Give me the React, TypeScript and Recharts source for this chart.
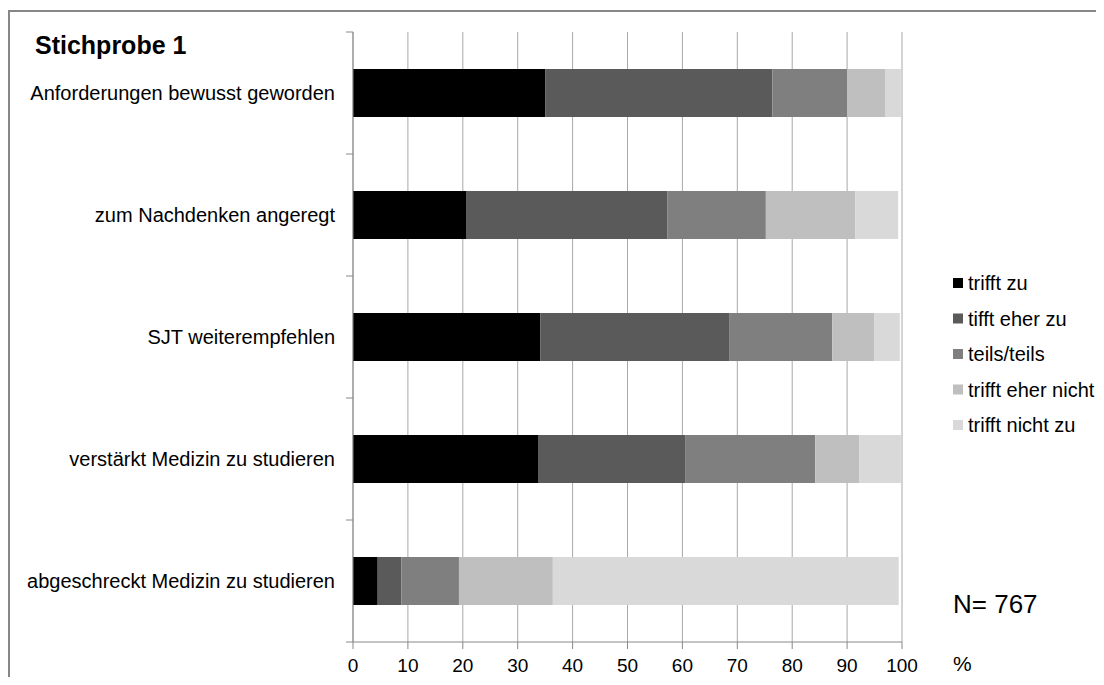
import { Bar, BarChart, CartesianGrid, XAxis, YAxis } from "recharts";

const categories = [
  "Anforderungen bewusst geworden",
  "zum Nachdenken angeregt",
  "SJT weiterempfehlen",
  "verstärkt Medizin zu studieren",
  "abgeschreckt Medizin zu studieren",
];

const seriesNames = [
  "trifft zu",
  "tifft eher zu",
  "teils/teils",
  "trifft eher nicht",
  "trifft nicht zu",
];

const seriesColors = ["#000000", "#5a5a5a", "#7f7f7f", "#bfbfbf", "#d9d9d9"];

// one array per answer, in the order of the categories
const triffZu = [35.0, 20.7, 34.1, 33.7, 4.5];
const eherZu = [41.4, 36.6, 34.4, 26.9, 4.3];
const teils = [13.6, 17.9, 18.8, 23.6, 10.5];
const eherNicht = [6.9, 16.3, 7.7, 8.0, 17.1];
const nichtZu = [2.9, 7.8, 4.6, 7.6, 63.0];

const seriesValues = [triffZu, eherZu, teils, eherNicht, nichtZu];
const xTicks = [0, 10, 20, 30, 40, 50, 60, 70, 80, 90, 100];

const W = 1096;
const H = 669;
const M = { top: 24, right: 202, bottom: 5, left: 0 };
const X_AXIS_H = 30;
const Y_AXIS_W = 345;
const FONT = "'Liberation Sans', Arial, sans-serif";
const AXIS = "#888888";

const data = categories.map((label, i) => {
  const row: Record<string, string | number> = { label };
  seriesNames.forEach((name, s) => {
    row[name] = seriesValues[s][i];
  });
  return row;
});

const bandHalf = (H - M.top - M.bottom - X_AXIS_H) / categories.length / 2;

function CategoryTick(props: any) {
  const { x, y, payload, index } = props;
  const axisX = x + 18;
  return (
    <g>
      <line x1={axisX - 7} x2={axisX} y1={y - bandHalf} y2={y - bandHalf} stroke={AXIS} />
      {index === categories.length - 1 && (
        <line x1={axisX - 7} x2={axisX} y1={y + bandHalf} y2={y + bandHalf} stroke={AXIS} />
      )}
      <text x={x} y={y} dy="0.35em" textAnchor="end" fontSize={20} fill="#000" fontFamily={FONT}>
        {payload.value}
      </text>
    </g>
  );
}

export default function App() {
  return (
    <div style={{ position: "relative", width: W, height: H, fontFamily: FONT }}>
      <div
        style={{
          position: "absolute",
          left: 0,
          top: 2,
          width: W,
          height: H - 2,
          borderTop: "2px solid #878787",
          borderLeft: "2px solid #878787",
          boxSizing: "border-box",
        }}
      />
      <div style={{ position: "absolute", left: 0, top: 0 }}>
        <BarChart width={W} height={H} data={data} layout="vertical" margin={M} barSize={48}>
          <CartesianGrid horizontal={false} stroke="#a8a8a8" verticalValues={xTicks} />
          <XAxis
            type="number"
            domain={[0, 100]}
            ticks={xTicks}
            height={X_AXIS_H}
            stroke={AXIS}
            tickSize={7}
            tickMargin={10}
            tick={{ fill: "#000", fontSize: 19, fontFamily: FONT }}
            interval={0}
          />
          <YAxis
            type="category"
            dataKey="label"
            width={Y_AXIS_W}
            stroke={AXIS}
            tickLine={false}
            tickSize={0}
            tickMargin={18}
            tick={<CategoryTick />}
            interval={0}
          />
          {seriesNames.map((name, s) => (
            <Bar
              key={name}
              dataKey={name}
              stackId="a"
              fill={seriesColors[s]}
              isAnimationActive={false}
            />
          ))}
        </BarChart>
      </div>
      <svg
        width={W}
        height={H}
        style={{ position: "absolute", left: 0, top: 0, pointerEvents: "none" }}
        fontFamily={FONT}
      >
        <text x={27} y={46} fontSize={25} fontWeight="bold" fill="#000">
          Stichprobe 1
        </text>
        {seriesNames.map((name, s) => (
          <g key={name}>
            <rect x={945} y={270 + s * 35.5} width={10} height={10} fill={seriesColors[s]} />
            <text x={960} y={275 + s * 35.5} dy="0.35em" fontSize={20} fill="#000">
              {name}
            </text>
          </g>
        ))}
        <text x={945} y={605} fontSize={26} fill="#000">
          N= 767
        </text>
        <text x={945} y={663} fontSize={21} fill="#000">
          %
        </text>
      </svg>
    </div>
  );
}
